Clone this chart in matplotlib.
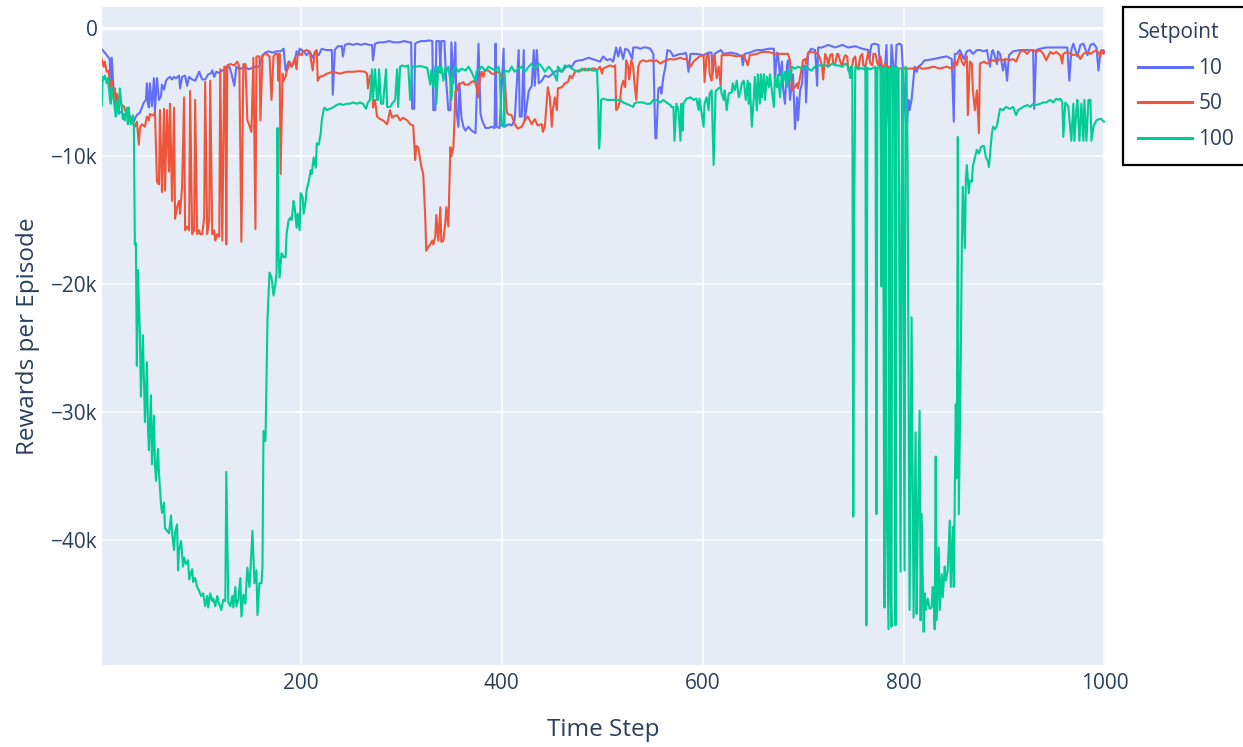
import numpy as np
import matplotlib
matplotlib.use("Agg")
import matplotlib.pyplot as plt
from matplotlib.ticker import FuncFormatter, FixedLocator

plt.rcParams['font.family'] = ['Open Sans', 'DejaVu Sans']

# ---- data: (time step, reward in thousands) ----
setpoints = ["10", "50", "100"]
colors = ["#636EFA", "#EF553B", "#00CC96"]

blue_pts = [(1,-1.6),(3,-1.7),(6,-2.0),(8,-2.2),(10,-2.4),(11,-5.2),(12,-2.3),(14,-5.0),(16,-6.1),(18,-6.4),(20,-6.6),(22,-6.5),(24,-6.9),(26,-6.7),(28,-7.0),(30,-7.2),(32,-7.1),(34,-7.3),(36,-6.9),(38,-6.7),(40,-6.6),(42,-6.2),(44,-5.8),(46,-5.6),(47,-4.3),(48,-5.9),(49,-6.2),(50,-4.3),(52,-6.1),(54,-3.9),(55,-6.4),(57,-3.9),(59,-5.6),(61,-5.3),(62,-4.4),(64,-4.8),(66,-4.1),(68,-3.9),(70,-3.8),(72,-4.0),(74,-3.8),(76,-3.9),(79,-3.7),(80,-4.7),(82,-3.8),(85,-3.7),(87,-4.5),(89,-3.8),(92,-4.0),(95,-4.1),(99,-3.4),(102,-4.0),(105,-4.0),(108,-3.6),(111,-3.5),(112,-3.3),(114,-3.8),(116,-3.4),(119,-3.5),(122,-3.3),(125,-3.2),(129,-3.0),(131,-3.5),(134,-4.5),(136,-3.0),(139,-3.2),(142,-3.1),(145,-3.0),(148,-3.2),(152,-3.1),(155,-3.0),(159,-3.0),(162,-2.1),(165,-1.9),(168,-1.8),(172,-1.9),(176,-1.8),(180,-1.8),(183,-1.6),(185,-3.3),(188,-2.6),(191,-3.0),(194,-2.5),(196,-1.8),(198,-2.1),(199,-1.6),(203,-1.8),(206,-2.1),(209,-1.8),(212,-2.3),(215,-1.8),(218,-2.1),(221,-1.6),(225,-1.7),(228,-1.7),(231,-1.7),(232,-5.2),(234,-1.7),(237,-1.4),(241,-1.4),(242,-2.2),(244,-1.3),(248,-1.2),(252,-1.3),(256,-1.2),(260,-1.3),(264,-1.2),(268,-1.3),(271,-1.3),(272,-2.5),(274,-1.2),(278,-1.1),(283,-1.1),(288,-1.0),(293,-1.1),(298,-1.1),(303,-1.0),(308,-1.1),(310,-1.1),(311,-6.3),(313,-6.3),(314,-1.2),(316,-1.1),(320,-1.0),(324,-1.0),(328,-0.95),(331,-1.0),(332,-6.4),(334,-6.4),(335,-1.0),(338,-1.0),(339,-3.0),(340,-1.0),(343,-1.0),(345,-4.3),(347,-6.4),(349,-6.4),(350,-1.1),(352,-4.3),(354,-1.1),(355,-6.4),(357,-7.7),(358,-4.3),(360,-7.0),(362,-7.7),(364,-8.0),(367,-7.7),(370,-8.0),(374,-8.2),(377,-1.2),(379,-6.7),(381,-7.3),(384,-7.8),(387,-7.8),(390,-7.7),(393,-7.8),(394,-1.2),(395,-7.7),(398,-7.8),(402,-1.6),(403,-7.7),(407,-7.5),(410,-7.6),(413,-7.2),(417,-1.7),(418,-6.9),(420,-6.9),(422,-1.7),(423,-7.2),(427,-4.9),(430,-4.5),(432,-1.7),(433,-4.5),(435,-1.7),(437,-4.3),(440,-4.1),(443,-3.7),(447,-3.8),(450,-3.6),(453,-3.4),(457,-3.3),(460,-3.4),(463,-3.1),(467,-2.9),(470,-3.0),(473,-2.6),(477,-2.5),(480,-2.5),(483,-2.4),(487,-2.3),(490,-2.4),(494,-2.5),(498,-2.6),(501,-2.2),(505,-2.5),(508,-2.4),(511,-2.6),(514,-1.5),(516,-2.2),(518,-1.5),(521,-2.4),(523,-1.6),(526,-1.7),(530,-2.4),(531,-1.5),(535,-1.5),(538,-1.6),(541,-1.5),(544,-1.5),(548,-1.6),(551,-2.0),(553,-8.6),(554,-8.6),(556,-4.7),(558,-4.6),(559,-5.1),(561,-3.8),(563,-3.0),(565,-1.7),(568,-1.8),(571,-2.2),(574,-2.1),(578,-2.0),(581,-2.0),(583,-1.9),(584,-2.1),(586,-3.4),(588,-2.0),(594,-2.0),(601,-2.1),(606,-1.9),(609,-1.9),(610,-3.6),(612,-2.0),(618,-1.7),(621,-2.0),(628,-1.9),(634,-2.0),(639,-2.2),(640,-2.9),(642,-2.0),(647,-1.9),(654,-1.7),(659,-1.7),(666,-1.6),(671,-1.6),(672,-4.1),(674,-1.9),(675,-2.0),(677,-3.7),(679,-2.6),(680,-4.6),(682,-5.9),(684,-2.9),(685,-2.5),(687,-5.6),(689,-4.3),(690,-3.6),(692,-7.9),(694,-5.4),(695,-7.2),(697,-4.9),(699,-4.3),(700,-3.0),(702,-2.9),(703,-5.8),(705,-2.0),(708,-1.6),(712,-1.7),(714,-4.5),(715,-1.5),(719,-1.5),(725,-1.3),(732,-1.5),(739,-1.3),(745,-1.5),(752,-1.4),(759,-1.6),(765,-1.7),(766,-2.4),(768,-1.3),(771,-1.2),(775,-1.3),(776,-2.4),(780,-5.1),(783,-1.3),(785,-7.7),(786,-7.9),(788,-1.3),(790,-3.0),(791,-5.1),(793,-1.3),(796,-1.2),(798,-1.3),(801,-5.6),(803,-8.2),(805,-5.6),(806,-6.4),(808,-5.6),(811,-3.0),(813,-3.4),(815,-3.0),(818,-2.8),(821,-2.5),(823,-2.5),(830,-2.4),(836,-2.3),(843,-2.2),(848,-2.4),(850,-7.3),(851,-2.0),(853,-2.0),(856,-1.7),(860,-2.4),(863,-1.8),(866,-1.7),(869,-2.0),(873,-1.7),(876,-1.7),(880,-1.8),(883,-1.7),(886,-3.0),(888,-1.8),(889,-1.7),(893,-2.8),(894,-1.8),(896,-2.0),(899,-3.3),(901,-2.4),(903,-4.1),(905,-2.1),(909,-1.8),(916,-1.7),(923,-1.7),(929,-1.7),(930,-6.3),(932,-1.7),(936,-1.6),(942,-1.5),(949,-1.5),(956,-1.5),(963,-1.5),(965,-4.1),(967,-1.7),(969,-1.2),(973,-2.2),(976,-1.3),(979,-1.2),(983,-2.1),(986,-1.3),(989,-1.2),(992,-1.5),(994,-3.3),(996,-1.8),(999,-1.7),(1000,-1.9)]

red_pts = [(1,-2.4),(2,-2.4),(4,-3.0),(5,-2.6),(7,-3.4),(9,-3.3),(10,-4.6),(12,-4.1),(14,-5.6),(15,-4.7),(16,-6.1),(17,-5.1),(19,-5.6),(20,-5.9),(24,-6.1),(25,-6.4),(29,-6.7),(32,-7.2),(34,-7.6),(35,-7.7),(37,-7.3),(39,-9.1),(40,-7.8),(42,-7.5),(45,-7.7),(47,-6.9),(49,-7.2),(50,-6.7),(52,-6.8),(54,-6.8),(55,-6.5),(57,-12.0),(59,-12.2),(60,-6.4),(62,-12.8),(64,-6.3),(65,-12.7),(67,-6.4),(69,-11.2),(70,-5.9),(72,-13.5),(74,-6.2),(75,-14.9),(77,-14.0),(79,-13.5),(80,-14.5),(82,-12.4),(84,-5.4),(85,-15.8),(87,-15.5),(89,-15.8),(90,-4.9),(92,-16.1),(94,-15.8),(95,-5.6),(97,-16.1),(99,-15.8),(100,-16.1),(102,-16.1),(104,-14.8),(105,-4.2),(107,-16.1),(109,-15.0),(110,-4.1),(112,-16.1),(114,-15.8),(115,-16.6),(117,-16.1),(119,-16.3),(120,-3.2),(122,-16.6),(124,-3.0),(125,-3.0),(126,-16.9),(127,-2.9),(130,-2.8),(134,-2.9),(137,-2.6),(139,-3.0),(141,-16.7),(143,-2.8),(145,-2.8),(147,-7.2),(149,-7.6),(151,-8.1),(153,-2.3),(155,-15.7),(156,-2.2),(159,-2.2),(160,-7.2),(162,-2.2),(164,-2.0),(166,-2.0),(169,-2.2),(171,-5.6),(173,-2.2),(175,-2.0),(177,-2.0),(178,-4.1),(179,-2.0),(180,-11.4),(182,-3.55),(183,-4.1),(185,-3.8),(186,-3.4),(188,-3.0),(189,-2.6),(191,-3.0),(192,-2.8),(194,-2.4),(196,-3.2),(197,-2.1),(199,-2.0),(201,-2.1),(202,-1.85),(206,-1.7),(209,-1.85),(212,-3.3),(214,-1.85),(216,-1.7),(217,-4.1),(219,-3.8),(223,-3.7),(226,-3.55),(232,-3.4),(239,-3.55),(246,-3.4),(252,-3.4),(259,-3.35),(264,-3.4),(266,-3.55),(267,-4.7),(269,-3.7),(271,-3.7),(272,-6.2),(274,-5.6),(276,-6.9),(279,-7.1),(282,-7.2),(286,-7.5),(287,-7.2),(289,-6.4),(291,-7.0),(292,-6.9),(296,-6.8),(299,-7.2),(302,-7.0),(306,-7.2),(309,-7.5),(312,-7.6),(314,-10.3),(315,-9.2),(317,-9.3),(319,-10.3),(320,-10.8),(322,-11.4),(324,-14.8),(325,-17.4),(327,-17.1),(329,-16.9),(331,-16.6),(332,-16.9),(334,-16.3),(335,-14.6),(337,-16.6),(339,-14.0),(340,-16.7),(342,-16.6),(344,-15.2),(345,-14.0),(347,-15.5),(349,-9.3),(350,-10.0),(352,-9.3),(353,-7.4),(354,-4.9),(356,-4.85),(357,-4.4),(360,-4.3),(362,-4.2),(363,-4.4),(367,-4.4),(370,-4.2),(373,-4.1),(375,-4.6),(377,-5.4),(378,-4.2),(380,-3.4),(382,-3.8),(383,-3.3),(387,-3.3),(390,-3.55),(393,-3.55),(397,-3.4),(400,-3.7),(403,-3.7),(405,-6.4),(406,-6.7),(410,-6.8),(413,-7.5),(416,-7.85),(420,-7.7),(423,-7.2),(426,-6.9),(430,-7.5),(433,-7.1),(436,-7.6),(440,-7.5),(441,-8.1),(443,-7.7),(446,-4.6),(448,-5.4),(450,-7.7),(451,-6.4),(453,-5.4),(455,-6.4),(456,-4.7),(460,-4.6),(463,-4.3),(466,-4.2),(468,-3.7),(470,-3.9),(473,-3.4),(476,-3.3),(480,-3.3),(483,-3.15),(486,-3.3),(490,-3.15),(493,-3.15),(495,-3.3),(498,-3.0),(500,-3.55),(501,-3.15),(505,-3.0),(508,-2.9),(511,-3.0),(513,-2.9),(514,-6.4),(516,-6.2),(518,-5.6),(519,-4.7),(521,-4.1),(523,-4.6),(524,-2.5),(526,-3.0),(527,-4.0),(529,-2.5),(531,-3.0),(532,-4.1),(534,-5.6),(536,-3.0),(538,-2.6),(541,-2.5),(544,-2.6),(548,-2.5),(551,-2.6),(554,-2.5),(558,-2.76),(561,-2.6),(564,-2.5),(568,-2.4),(571,-2.45),(574,-2.4),(578,-2.3),(581,-2.4),(584,-2.4),(588,-3.0),(591,-2.6),(594,-2.4),(597,-2.2),(601,-2.1),(602,-4.2),(604,-2.2),(606,-2.0),(607,-3.55),(609,-4.1),(611,-2.2),(612,-2.1),(614,-3.9),(616,-3.0),(618,-4.5),(619,-2.1),(621,-2.1),(628,-2.1),(634,-2.2),(641,-2.1),(645,-2.9),(647,-2.1),(654,-2.0),(659,-1.85),(666,-1.85),(672,-2.0),(679,-2.0),(685,-2.0),(687,-2.5),(689,-4.85),(690,-4.7),(692,-4.6),(694,-4.3),(695,-4.7),(697,-3.8),(699,-3.0),(700,-2.5),(702,-2.4),(703,-2.76),(705,-1.9),(708,-1.85),(712,-1.9),(715,-2.0),(717,-2.4),(719,-3.0),(720,-4.0),(722,-2.0),(724,-2.4),(725,-3.0),(727,-2.1),(729,-2.0),(730,-2.76),(732,-2.76),(734,-2.0),(735,-2.0),(737,-2.6),(739,-3.0),(740,-2.5),(742,-2.1),(744,-2.2),(745,-3.3),(749,-2.9),(750,-2.4),(752,-2.2),(753,-3.0),(755,-3.15),(757,-2.2),(759,-2.0),(760,-2.9),(762,-3.0),(764,-2.2),(765,-1.85),(767,-2.76),(769,-2.9),(770,-2.0),(772,-2.0),(774,-2.76),(775,-2.9),(777,-2.2),(779,-3.15),(782,-2.76),(784,-3.15),(785,-3.0),(789,-3.15),(795,-3.15),(802,-3.15),(809,-3.15),(812,-3.15),(815,-3.0),(818,-3.15),(822,-3.15),(830,-3.0),(836,-3.15),(843,-3.0),(848,-3.15),(850,-2.9),(851,-2.5),(853,-2.9),(856,-2.0),(858,-2.6),(860,-2.9),(863,-2.2),(864,-6.8),(866,-2.6),(868,-2.76),(869,-4.85),(871,-6.4),(873,-4.85),(875,-8.2),(876,-2.76),(880,-2.6),(883,-2.76),(886,-2.6),(889,-2.5),(893,-2.6),(896,-2.4),(899,-2.5),(902,-2.4),(906,-2.5),(909,-2.4),(912,-2.6),(916,-1.85),(919,-1.7),(923,-2.0),(926,-1.7),(929,-1.7),(932,-1.85),(936,-1.7),(939,-2.0),(942,-2.5),(946,-1.85),(949,-2.0),(952,-1.85),(956,-2.1),(958,-2.76),(959,-2.0),(963,-1.85),(966,-2.0),(969,-2.1),(973,-2.0),(976,-2.4),(979,-2.0),(983,-1.85),(986,-2.0),(989,-1.85),(992,-1.7),(996,-2.2),(997,-1.7),(999,-2.0),(1000,-1.85)]

green_pts = [(1,-6.1),(2,-6.1),(3,-3.8),(4,-4.0),(5,-3.7),(7,-4.3),(8,-3.9),(9,-4.6),(10,-5.4),(11,-5.9),(12,-4.6),(14,-5.6),(15,-6.3),(16,-6.9),(18,-5.6),(19,-6.7),(20,-4.7),(21,-5.4),(23,-7.1),(24,-6.7),(25,-7.2),(27,-6.2),(28,-7.5),(29,-6.2),(30,-7.2),(31,-7.5),(33,-6.8),(34,-7.7),(35,-16.9),(36,-16.8),(37,-26.4),(38,-18.9),(40,-24.0),(41,-28.8),(43,-24.0),(45,-30.8),(47,-26.1),(48,-31.2),(49,-33.0),(51,-28.7),(52,-34.1),(54,-30.3),(55,-34.1),(56,-35.4),(58,-32.9),(59,-34.8),(61,-37.2),(62,-37.9),(64,-37.1),(65,-39.1),(67,-39.3),(69,-39.5),(71,-38.1),(72,-39.5),(74,-40.8),(75,-39.4),(77,-38.8),(78,-42.4),(79,-40.8),(81,-40.1),(83,-42.1),(84,-41.4),(86,-41.9),(88,-41.6),(89,-43.1),(92,-42.3),(93,-43.3),(95,-43.0),(97,-43.7),(99,-44.0),(101,-44.4),(103,-44.2),(105,-45.2),(107,-44.4),(108,-45.3),(110,-44.2),(112,-44.8),(113,-44.6),(115,-45.2),(117,-44.4),(118,-44.8),(121,-45.5),(123,-44.7),(125,-44.8),(126,-34.7),(128,-44.9),(130,-45.2),(132,-44.4),(133,-45.3),(135,-43.7),(136,-45.2),(138,-44.7),(140,-43.0),(141,-46.0),(143,-44.3),(145,-45.0),(146,-43.4),(147,-42.2),(149,-43.7),(150,-42.4),(152,-39.3),(154,-43.4),(156,-42.4),(157,-45.9),(159,-43.4),(161,-43.4),(162,-42.2),(163,-31.5),(165,-32.3),(166,-27.3),(167,-22.7),(169,-19.1),(171,-19.5),(173,-20.9),(175,-19.9),(176,-19.1),(177,-7.8),(178,-17.6),(179,-19.5),(181,-17.6),(183,-17.9),(185,-17.9),(186,-16.1),(188,-15.0),(190,-14.8),(191,-15.0),(193,-13.5),(194,-14.0),(196,-15.6),(197,-14.5),(199,-15.8),(200,-12.9),(202,-13.2),(203,-14.5),(205,-13.5),(206,-12.6),(208,-12.0),(210,-11.1),(211,-11.4),(213,-10.1),(215,-10.9),(216,-9.0),(218,-9.1),(220,-8.2),(221,-7.2),(223,-6.3),(224,-6.2),(226,-6.4),(229,-6.3),(232,-6.2),(236,-6.0),(239,-5.9),(242,-6.0),(246,-5.9),(249,-5.9),(252,-5.8),(256,-5.9),(259,-5.8),(262,-5.9),(265,-6.3),(267,-5.8),(269,-5.6),(271,-3.2),(272,-5.6),(274,-3.2),(276,-5.6),(277,-5.6),(278,-3.2),(280,-5.9),(282,-5.9),(285,-3.2),(286,-6.15),(289,-6.15),(291,-5.9),(292,-5.8),(294,-5.6),(296,-3.2),(297,-6.15),(299,-3.0),(301,-2.9),(304,-3.0),(307,-2.9),(309,-5.6),(311,-3.0),(315,-3.0),(319,-2.95),(322,-3.0),(326,-3.1),(329,-4.4),(330,-3.3),(332,-4.6),(334,-3.0),(335,-5.9),(337,-3.0),(339,-3.5),(340,-3.0),(342,-4.1),(344,-3.15),(345,-3.4),(347,-3.0),(349,-4.1),(350,-5.6),(352,-3.3),(354,-3.0),(357,-3.4),(360,-3.15),(364,-3.3),(367,-3.0),(370,-3.4),(374,-4.1),(375,-3.4),(377,-3.3),(380,-3.0),(384,-3.3),(387,-3.0),(390,-3.15),(394,-3.3),(397,-3.0),(398,-3.5),(400,-7.6),(402,-7.7),(403,-3.3),(407,-3.4),(410,-3.0),(413,-3.4),(417,-3.15),(420,-3.0),(423,-3.4),(427,-3.0),(430,-2.76),(433,-3.15),(437,-2.76),(440,-3.0),(443,-3.4),(447,-3.0),(450,-3.3),(453,-3.7),(455,-4.1),(456,-3.0),(460,-3.4),(463,-2.9),(467,-3.0),(470,-3.15),(473,-3.3),(477,-3.4),(480,-3.15),(483,-3.3),(487,-3.15),(490,-3.3),(493,-3.3),(495,-3.3),(496,-5.6),(497,-9.4),(498,-8.2),(499,-5.6),(501,-5.5),(505,-5.6),(508,-5.6),(511,-5.6),(514,-5.6),(518,-5.6),(521,-5.8),(524,-5.9),(527,-6.0),(531,-6.15),(532,-5.9),(534,-5.8),(538,-5.8),(541,-5.8),(544,-5.9),(548,-5.9),(551,-5.6),(554,-5.6),(558,-5.8),(561,-5.6),(564,-5.8),(568,-6.0),(569,-6.15),(571,-6.15),(572,-8.8),(574,-5.9),(576,-6.4),(578,-8.8),(579,-5.9),(580,-8.0),(581,-5.9),(584,-5.5),(588,-5.4),(591,-5.6),(594,-5.5),(596,-6.4),(597,-5.5),(601,-7.7),(602,-5.9),(604,-5.4),(606,-6.4),(607,-5.1),(609,-4.85),(611,-10.7),(613,-4.9),(616,-4.7),(618,-4.6),(619,-5.1),(621,-5.6),(622,-4.85),(624,-6.4),(626,-5.1),(629,-5.0),(630,-4.3),(632,-4.85),(634,-4.1),(636,-5.4),(638,-4.85),(639,-4.3),(641,-4.1),(643,-5.6),(645,-4.1),(646,-5.9),(647,-4.3),(649,-7.7),(651,-5.4),(652,-3.8),(654,-6.4),(655,-3.6),(657,-5.9),(658,-3.6),(659,-5.4),(661,-3.6),(662,-5.6),(664,-3.8),(666,-4.6),(667,-3.6),(669,-4.85),(671,-6.15),(672,-3.8),(674,-4.6),(675,-3.6),(677,-5.4),(679,-3.4),(680,-4.3),(682,-3.4),(684,-4.6),(685,-3.3),(687,-4.1),(689,-3.0),(692,-3.15),(695,-3.0),(699,-3.15),(702,-3.0),(705,-3.15),(708,-3.3),(712,-3.0),(715,-2.9),(719,-2.9),(722,-2.9),(725,-3.0),(729,-2.76),(732,-2.9),(735,-2.9),(739,-3.0),(742,-2.76),(745,-3.0),(747,-3.9),(748,-3.0),(749,-3.1),(750,-38.2),(751,-13.4),(752,-3.0),(755,-3.2),(758,-3.1),(761,-3.2),(762,-3.0),(763,-46.7),(764,-3.1),(767,-3.2),(770,-3.1),(772,-3.0),(773,-38.0),(774,-3.1),(777,-3.0),(778,-20.2),(779,-3.1),(780,-20.2),(781,-45.3),(782,-3.0),(783,-35.6),(784,-41.6),(785,-47.0),(786,-3.1),(787,-43.7),(788,-46.8),(789,-3.0),(791,-3.1),(792,-46.7),(793,-3.0),(795,-3.2),(797,-42.5),(798,-13.7),(799,-3.1),(801,-42.4),(802,-3.0),(803,-3.2),(804,-10.4),(806,-45.5),(808,-22.6),(810,-46.1),(812,-31.6),(813,-45.8),(814,-39.8),(816,-29.9),(817,-46.3),(818,-38.0),(820,-47.2),(821,-44.2),(822,-45.5),(824,-44.6),(826,-45.4),(828,-45.3),(829,-43.7),(830,-44.5),(831,-47.0),(832,-33.5),(833,-46.3),(835,-40.6),(836,-45.5),(838,-42.7),(839,-44.5),(841,-42.1),(842,-43.2),(844,-42.4),(846,-38.5),(847,-43.7),(849,-39.0),(850,-43.7),(852,-29.4),(853,-35.2),(854,-8.5),(855,-38.0),(857,-25.5),(858,-17.2),(859,-12.4),(861,-17.2),(862,-11.9),(863,-10.7),(865,-12.9),(866,-11.9),(868,-12.0),(869,-10.8),(871,-10.1),(873,-9.5),(875,-9.8),(877,-9.3),(879,-9.2),(880,-9.2),(882,-10.1),(884,-10.4),(885,-10.85),(887,-9.0),(888,-8.2),(889,-7.7),(891,-7.9),(893,-7.6),(895,-6.7),(896,-6.3),(899,-6.4),(902,-6.15),(906,-6.3),(909,-6.15),(912,-6.8),(914,-6.4),(916,-6.3),(919,-6.15),(923,-6.0),(926,-6.15),(929,-5.9),(932,-6.0),(936,-5.9),(939,-5.8),(942,-5.8),(946,-5.6),(949,-5.8),(952,-5.5),(954,-5.6),(956,-5.5),(958,-5.8),(959,-8.5),(961,-5.8),(963,-6.0),(964,-6.15),(967,-8.8),(969,-5.9),(970,-8.8),(972,-6.4),(973,-5.6),(975,-8.8),(977,-5.9),(979,-8.8),(980,-5.6),(982,-8.8),(984,-5.6),(986,-5.6),(987,-8.8),(989,-7.7),(990,-7.5),(992,-7.2),(995,-7.1),(997,-7.1),(999,-7.3),(1000,-7.3)]

series_pts = [blue_pts, red_pts, green_pts]

y_ticks = [-40000, -30000, -20000, -10000, 0]
x_ticks = [200, 400, 600, 800, 1000]

# ---- figure ----
W, H = 1243, 747
fig = plt.figure(figsize=(W / 100, H / 100), dpi=100)
fig.patch.set_facecolor("white")
left, right, top, bottom = 101.7, 1104.5, 6.7, 665.0
ax = fig.add_axes([left / W, 1 - bottom / H, (right - left) / W, (bottom - top) / H])
ax.set_facecolor("#E5ECF6")

text_color = "#2a3f5f"
handles = []
for pts, name, c in zip(series_pts, setpoints, colors):
    steps, vals = zip(*pts)
    h, = ax.plot(np.array(steps), np.array(vals) * 1000.0, color=c, lw=1.5,
                 solid_joinstyle="round", zorder=3, label=name)
    handles.append(h)

ax.set_xlim(2, 1000)
ax.set_ylim(-49800, 1690)
ax.xaxis.set_major_locator(FixedLocator(x_ticks))
ax.yaxis.set_major_locator(FixedLocator(y_ticks))
ax.yaxis.set_major_formatter(FuncFormatter(
    lambda v, p: "0" if v == 0 else "\u2212%dk" % (abs(v) // 1000)))
ax.grid(True, color="white", lw=1.1, zorder=1)
ax.axhline(0, color="white", lw=2.4, zorder=1.5)
ax.set_axisbelow(True)
for s in ax.spines.values():
    s.set_visible(False)
ax.tick_params(axis="both", length=0, labelsize=15, colors=text_color)
ax.tick_params(axis="y", pad=3)
ax.tick_params(axis="x", pad=6)

fig.text(603 / W, 1 - 730 / H, "Time Step", ha="center", va="center",
         fontsize=17.5, color=text_color)
fig.text(28 / W, 1 - 336 / H, "Rewards per Episode", ha="center", va="center",
         rotation=90, fontsize=17.5, color=text_color)

leg = fig.legend(handles, setpoints, title="Setpoint", loc="upper left",
                 bbox_to_anchor=(1123 / W, 0, 200 / W, 1 - 7.3 / H),
                 bbox_transform=fig.transFigure, mode="expand", borderaxespad=0,
                 fontsize=15, title_fontsize=15, frameon=True, fancybox=False,
                 handlelength=2.6, handletextpad=0.3, labelspacing=0.7,
                 borderpad=0.72, alignment="left")
leg.get_frame().set_edgecolor("black")
leg.get_frame().set_linewidth(1.6)
leg.get_frame().set_alpha(1)
for t in leg.get_texts():
    t.set_color(text_color)
leg.get_title().set_color(text_color)
for lh in leg.legend_handles:
    lh.set_linewidth(2.2)

fig.savefig("out.png", dpi=100)
